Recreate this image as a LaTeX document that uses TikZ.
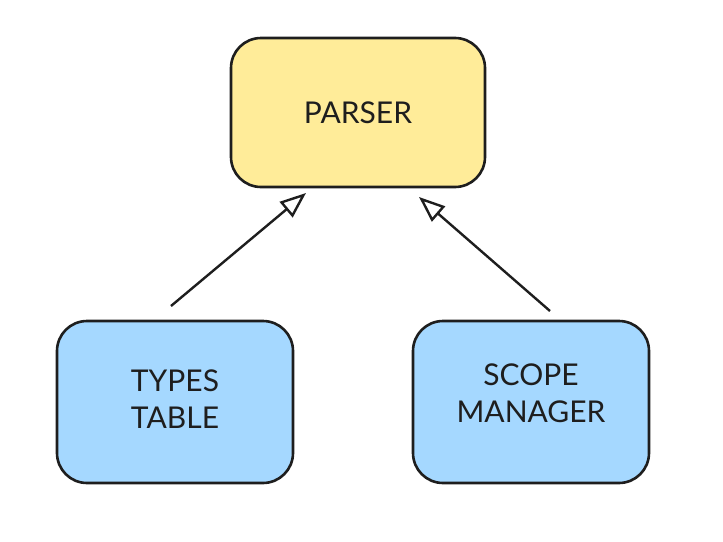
\documentclass[tikz,border=0pt]{standalone}
\usepackage{fontspec}
\setmainfont{Lato}
\usetikzlibrary{arrows.meta}
\definecolor{ink}{HTML}{1E1E1E}
\definecolor{yel}{HTML}{FFEC99}
\definecolor{blu}{HTML}{A5D8FF}
\tikzset{
  box/.style={draw=ink, line width=2.6pt, rounded corners=30pt, inner sep=0pt, align=center, text=ink, font=\fontsize{30}{36}\selectfont},
  boxtext/.style={align=center, text=ink, font=\fontsize{30}{37.5}\selectfont},
  conn/.style={draw=ink, line width=2.4pt, -{Triangle[open,length=26pt,width=20pt,line width=2.4pt]}}
}
\begin{document}
\begin{tikzpicture}[x=1pt,y=-1pt]
\useasboundingbox (0,0) rectangle (723,541);
\node[box, fill=yel, minimum width=254pt, minimum height=149pt] (parser) at (358,112.5) {PARSER};
\node[box, fill=blu, minimum width=236pt, minimum height=162pt] (types) at (175,402) {};
\node[boxtext] (typestxt) at (types.center) [yshift=3pt] {TYPES\\TABLE};
\node[box, fill=blu, minimum width=236pt, minimum height=162pt] (scope) at (531,402) {};
\node[boxtext] (scopetxt) at (scope.center) [yshift=9pt] {SCOPE\\MANAGER};
\coordinate (s1) at (171,306);
\coordinate (t1) at (306,193);
\coordinate (s2) at (550,311);
\coordinate (t2) at (419,197);
\draw[conn] (s1) -- (t1);
\draw[conn] (s2) -- (t2);
\end{tikzpicture}
\end{document}
